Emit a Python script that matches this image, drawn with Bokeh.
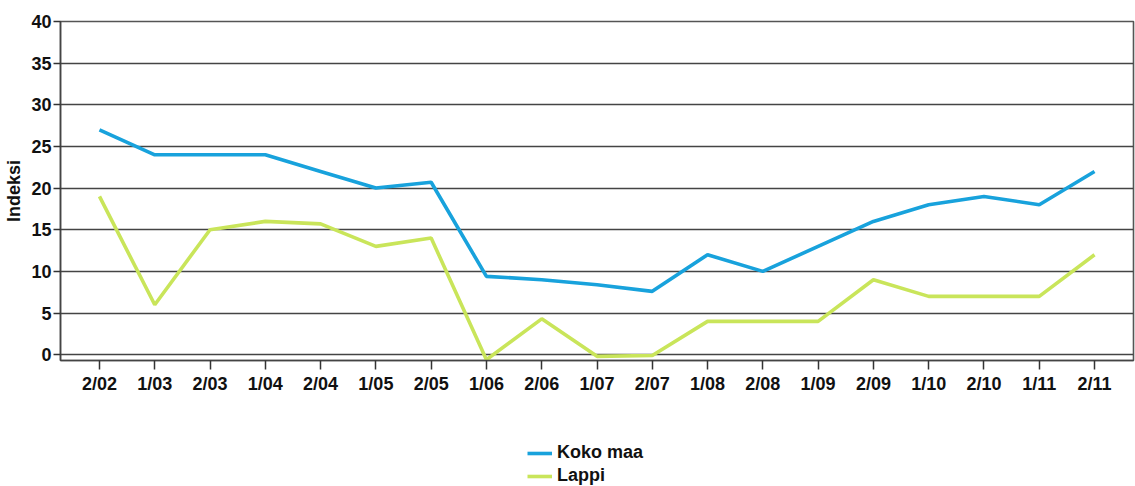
from bokeh.plotting import figure
from bokeh.models import Range1d, FixedTicker, Legend, LegendItem
from bokeh.layouts import column
from bokeh.embed import file_html
from bokeh.resources import INLINE

periods = ["2/02", "1/03", "2/03", "1/04", "2/04", "1/05", "2/05", "1/06", "2/06", "1/07",
           "2/07", "1/08", "2/08", "1/09", "2/09", "1/10", "2/10", "1/11", "2/11"]
koko_maa = [27, 24, 24, 24, 22, 20, 20.7, 9.4, 9.0, 8.4, 7.6, 12, 10, 13, 16, 18, 19, 18, 22]
lappi = [19, 6, 15, 16, 15.7, 13, 14, -0.6, 4.3, -0.2, -0.1, 4, 4, 4, 9, 7, 7, 7, 12]
y_ticks = [0, 5, 10, 15, 20, 25, 30, 35, 40]
series_names = ["Koko maa", "Lappi"]

xs = list(range(len(periods)))

FONT = "Liberation Sans"
blue = "#18a2dc"
green = "#c9e55a"
LW = 3.6

p = figure(width=1135, height=422, output_backend="svg", toolbar_location=None,
           x_range=Range1d(-0.705, len(periods) - 1 + 0.705), y_range=Range1d(-0.7, 40),
           min_border_top=21, min_border_bottom=62, min_border_right=2, min_border_left=60)

p.line(xs, koko_maa, line_color=blue, line_width=LW)
p.line(xs, lappi, line_color=green, line_width=LW)

p.xaxis.ticker = FixedTicker(ticks=xs)
p.xaxis.major_label_overrides = {i: s for i, s in enumerate(periods)}
p.yaxis.ticker = FixedTicker(ticks=y_ticks)

for ax in (p.xaxis[0], p.yaxis[0]):
    ax.axis_line_color = "#444444"
    ax.axis_line_width = 1.5
    ax.major_tick_line_color = "#333333"
    ax.major_tick_line_width = 1.5
    ax.minor_tick_line_color = None
    ax.major_tick_in = 0
    ax.major_label_text_font = FONT
    ax.major_label_text_font_style = "bold"
    ax.major_label_text_font_size = "18px"
    ax.major_label_text_color = "#111111"

p.yaxis.major_tick_out = 7
p.yaxis.major_label_standoff = 2
p.xaxis.major_tick_out = 9
p.xaxis.major_label_standoff = 4

p.yaxis.axis_label = "Indeksi"
p.yaxis.axis_label_text_font = FONT
p.yaxis.axis_label_text_font_style = "bold"
p.yaxis.axis_label_text_font_size = "18px"
p.yaxis.axis_label_text_color = "#111111"
p.yaxis.axis_label_standoff = 4

p.xgrid.grid_line_color = None
p.ygrid.grid_line_color = "#444444"
p.ygrid.grid_line_width = 1.6

p.outline_line_color = "#555555"
p.outline_line_width = 1.6

# legend strip below the chart (proxy lines lie outside its visible range)
q = figure(width=1135, height=64, output_backend="svg", toolbar_location=None,
           x_range=Range1d(0, 1), y_range=Range1d(0, 1),
           min_border_top=0, min_border_bottom=0, min_border_left=0, min_border_right=0)
q.axis.visible = False
q.grid.grid_line_color = None
q.outline_line_color = None
l1 = q.line([-5, -4], [-5, -5], line_color=blue, line_width=LW)
l2 = q.line([-5, -4], [-6, -6], line_color=green, line_width=LW)

legend = Legend(items=[LegendItem(label=series_names[0], renderers=[l1]),
                       LegendItem(label=series_names[1], renderers=[l2])],
                location=(467, 0), orientation="vertical",
                padding=0, spacing=2, margin=0,
                label_height=18, glyph_height=18, glyph_width=25, label_standoff=5,
                label_text_font=FONT, label_text_font_style="bold",
                label_text_font_size="18px", label_text_color="#111111",
                border_line_color=None, background_fill_alpha=0)
q.add_layout(legend, "center")

layout = column(p, q, spacing=0)
open("out.html", "w").write(file_html(layout, INLINE))
